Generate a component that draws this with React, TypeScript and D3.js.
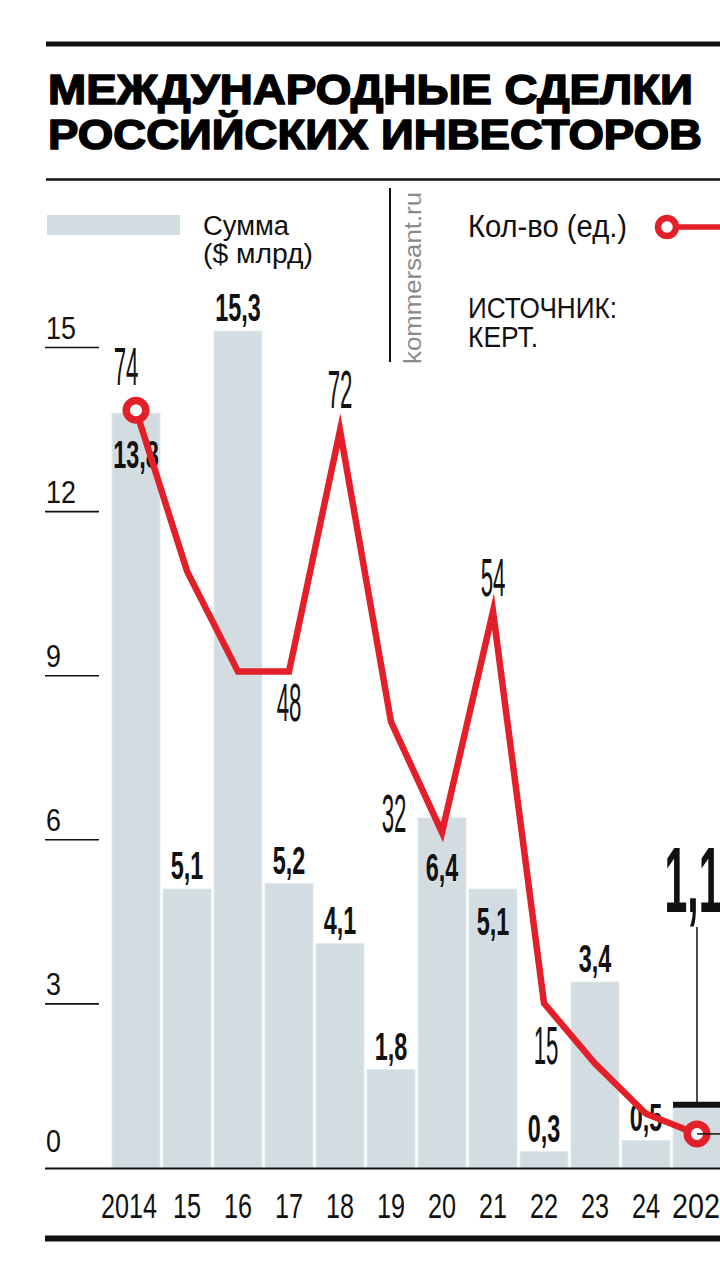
import React from 'react';
import * as d3 from 'd3';

const years = ['2014', '15', '16', '17', '18', '19', '20', '21', '22', '23', '24', '2025'];
const sums = [13.8, 5.1, 15.3, 5.2, 4.1, 1.8, 6.4, 5.1, 0.3, 3.4, 0.5, 1.1];
const counts = [74, 58, 48, 48, 72, 43, 32, 54, 15, 9, 4, 2];
const labeledCounts = ['2014', '17', '18', '20', '21', '22'];
const yTicks = [0, 3, 6, 9, 12, 15];
const titleLines = ['МЕЖДУНАРОДНЫЕ СДЕЛКИ', 'РОССИЙСКИХ ИНВЕСТОРОВ'];

const FONT = '"Liberation Sans", Arial, Helvetica, sans-serif';
const BAR = '#d3dde1';
const RED = '#e3202a';
const INK = '#111';

const fmt = (v: number) => d3.format('.1f')(v).replace('.', ',');

function CText(props: any) {
  const { x, y, size, sx = 1, anchor = 'middle', weight = 400, fill = INK, children } = props;
  return (
    <text
      transform={`translate(${x},${y}) scale(${sx},1)`}
      fontSize={size}
      fontWeight={weight}
      textAnchor={anchor}
      fill={fill}
      fontFamily={FONT}
    >
      {children}
    </text>
  );
}

export default function App() {
  const W = 720;
  const H = 1280;
  const x = d3.scaleBand<string>().domain(years).range([110.5, 722.5]).paddingInner(0.06).paddingOuter(0.03);
  const ySum = d3.scaleLinear().domain([0, 15]).range([1168, 1168 - 15 * 54.7]);
  const yCnt = d3.scaleLinear().domain([0, 80]).range([1154, 350]);
  const cx = (yr: string) => (x(yr) as number) + x.bandwidth() / 2;

  const line = d3
    .line<number>()
    .x((_, i) => cx(years[i]))
    .y((d) => yCnt(d))
    .curve(d3.curveLinear);

  const insideOffset: Record<string, number> = { '2014': 55, '20': 63, '21': 46 };
  const countOffset: Record<string, [number, number]> = {
    '2014': [-10, -25],
    '17': [0, 49],
    '18': [0, -22],
    '20': [-48, 0],
    '21': [0, -15],
    '22': [2, 61],
  };

  const last = years[years.length - 1];
  const lastX = x(last) as number;
  const lastTop = ySum(sums[sums.length - 1]);

  return (
    <svg
      width={W}
      height={H}
      viewBox={`0 0 ${W} ${H}`}
      style={{ position: 'absolute', left: 0, top: 0, background: '#fff', display: 'block' }}
    >
      <rect x={0} y={0} width={W} height={H} fill="#fff" />
      {/* rules */}
      <line x1={46} x2={W} y1={44} y2={44} stroke={INK} strokeWidth={5} />
      <line x1={46} x2={W} y1={179.5} y2={179.5} stroke={INK} strokeWidth={2.5} />
      <line x1={45} x2={W} y1={1238.5} y2={1238.5} stroke={INK} strokeWidth={6} />

      {/* title */}
      {titleLines.map((t, i) => (
        <text
          key={t}
          x={48}
          y={i === 0 ? 104 : 149}
          fontSize={43}
          fontWeight={900}
          fontFamily={FONT}
          fill="#000"
          stroke="#000"
          strokeWidth={1.6}
          strokeLinejoin="round"
          textLength={i === 0 ? 645 : 654}
          lengthAdjust="spacingAndGlyphs"
        >
          {t}
        </text>
      ))}

      {/* legend */}
      <rect x={47} y={215} width={133} height={20} fill={BAR} />
      <text x={203} y={235} fontSize={27} fontFamily={FONT} fill={INK} textLength={86} lengthAdjust="spacingAndGlyphs">Сумма</text>
      <text x={203} y={263} fontSize={27} fontFamily={FONT} fill={INK} textLength={110} lengthAdjust="spacingAndGlyphs">($ млрд)</text>
      <line x1={390} x2={390} y1={188} y2={362} stroke={INK} strokeWidth={2} />
      <text
        transform="translate(421,364) rotate(-90)"
        fontSize={23}
        fontFamily={FONT}
        fill="#8a8a8a"
        textLength={172}
        lengthAdjust="spacingAndGlyphs"
      >
        kommersant.ru
      </text>
      <text x={468} y={237} fontSize={31} fontFamily={FONT} fill={INK} textLength={159} lengthAdjust="spacingAndGlyphs">Кол-во (ед.)</text>
      <line x1={672} x2={W} y1={227} y2={227} stroke={RED} strokeWidth={5.5} />
      <circle cx={667} cy={227} r={9} fill="#fff" stroke={RED} strokeWidth={6.5} />
      <text x={468} y={318} fontSize={29} fontFamily={FONT} fill={INK} textLength={149} lengthAdjust="spacingAndGlyphs">ИСТОЧНИК:</text>
      <text x={468} y={347} fontSize={29} fontFamily={FONT} fill={INK} textLength={70} lengthAdjust="spacingAndGlyphs">КЕРТ.</text>

      {/* y ticks */}
      {yTicks.map((t) => (
        <g key={t}>
          {t > 0 && <line x1={45} x2={99} y1={ySum(t)} y2={ySum(t)} stroke={INK} strokeWidth={1.6} />}
          <CText x={46} y={ySum(t) - (t === 0 ? 16 : 9)} size={32} sx={0.84} anchor="start">
            {String(t)}
          </CText>
        </g>
      ))}

      {/* bars */}
      {years.map((yr, i) => (
        <rect
          key={yr}
          x={x(yr) as number}
          y={ySum(sums[i])}
          width={x.bandwidth()}
          height={ySum(0) - ySum(sums[i])}
          fill={BAR}
          stroke="#e2e8ea"
          strokeWidth={1}
        />
      ))}

      {/* baseline */}
      <line x1={45} x2={W} y1={1168.5} y2={1168.5} stroke={INK} strokeWidth={1.8} />

      {/* bar value labels */}
      {years.map((yr, i) => {
        if (yr === last) return null;
        const top = ySum(sums[i]);
        const ly = insideOffset[yr] !== undefined ? top + insideOffset[yr] : top - 10;
        return (
          <CText key={yr} x={cx(yr)} y={ly} size={39} sx={0.6} weight={700}>
            {fmt(sums[i])}
          </CText>
        );
      })}

      {/* highlight of last bar */}
      <line x1={lastX} x2={W} y1={lastTop - 3} y2={lastTop - 3} stroke={INK} strokeWidth={6} />
      <line x1={cx(last)} x2={cx(last)} y1={927} y2={lastTop - 5} stroke={INK} strokeWidth={1.5} />
      <CText x={cx(last) - 4} y={912} size={93} sx={0.44} weight={700}>
        {fmt(sums[sums.length - 1])}
      </CText>

      {/* count line */}
      <path d={line(counts) || ''} fill="none" stroke={RED} strokeWidth={6.5} strokeLinejoin="miter" strokeMiterlimit={10} />
      {[0, counts.length - 1].map((i) => (
        <circle key={i} cx={cx(years[i])} cy={yCnt(counts[i])} r={9.75} fill="#fff" stroke={RED} strokeWidth={7.5} />
      ))}
      <line
        x1={cx(last)}
        x2={W}
        y1={yCnt(counts[counts.length - 1])}
        y2={yCnt(counts[counts.length - 1])}
        stroke={INK}
        strokeWidth={1.5}
      />

      {/* count labels */}
      {labeledCounts.map((yr) => {
        const i = years.indexOf(yr);
        const [dx, dy] = countOffset[yr];
        return (
          <CText key={yr} x={cx(yr) + dx} y={yCnt(counts[i]) + dy} size={53} sx={0.42}>
            {String(counts[i])}
          </CText>
        );
      })}

      {/* x labels */}
      {years.map((yr, i) => {
        const isFirst = i === 0;
        const isLast = i === years.length - 1;
        return (
          <CText
            key={yr}
            x={isLast ? (x(yr) as number) - 1 : cx(yr) - (isFirst ? 7 : 0)}
            y={1218}
            size={35}
            sx={isLast ? 0.82 : 0.72}
            anchor={isLast ? 'start' : 'middle'}
          >
            {yr}
          </CText>
        );
      })}
    </svg>
  );
}
